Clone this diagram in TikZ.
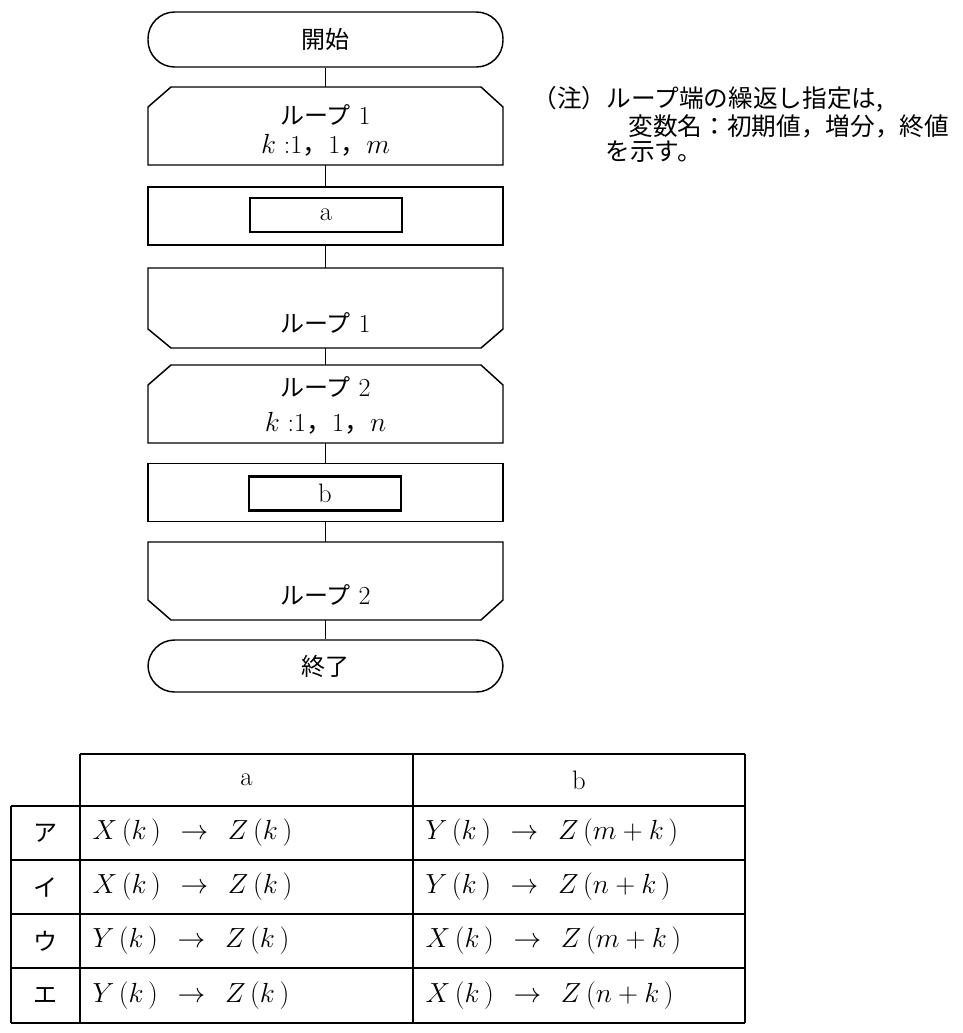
\documentclass[tikz,border=0pt]{standalone}
\usepackage{fontspec}
\newfontfamily\jp{Noto Sans CJK JP}

\tikzset{every picture/.style={line width=0.75pt}}
\tikzset{
  term/.style={draw, line width=1.1pt, rounded corners=20pt, minimum width=266.25pt, minimum height=41.25pt, inner sep=0pt, font=\fontsize{18}{22}\selectfont\jp},
  proc/.style={draw, line width=1.1pt, minimum width=266.25pt, minimum height=43.5pt, inner sep=0pt},
  inbox/.style={draw, line width=2.2pt, minimum width=114pt, minimum height=25.5pt, inner sep=0pt, font=\fontsize{20}{24}\selectfont},
  lbl/.style={inner sep=0.75pt, font=\fontsize{19.5}{22}\selectfont},
  note/.style={anchor=west, inner sep=0pt, font=\fontsize{18.5}{22}\selectfont\jp},
  head/.style={inner sep=0pt, font=\fontsize{20}{24}\selectfont},
  cell/.style={anchor=west, inner sep=0pt, font=\fontsize{20}{24}\selectfont},
  rule/.style={line width=1.1pt},
}
\newcommand\gap{\hspace{0.45em}}

\begin{document}
\begin{tikzpicture}[x=0.75pt,y=0.75pt,yscale=-1,xscale=1]
\useasboundingbox (0,0) rectangle (963,1033);

%Shape: Terminal [start]
\node[term] (start) at (325.5,39.5) {開始};

%Shape: Loop start [loop 1]
\draw[rule] (148,107) -- (171,87) -- (481,87) -- (503,107) -- (503,165) -- (148,165) -- cycle;
\coordinate (l1s-n) at (325.5,87);
\coordinate (l1s-s) at (325.5,165);
\node[lbl] (l1s-name) at (325.5,115) {{\fontsize{18}{22}\selectfont\jp ループ} 1};
\node[lbl] (l1s-rng) at (325.5,145) {$k$\ :1{\jp ，}1{\jp ，}$m$};

%Shape: Process [a]
\node[proc] (pa) at (325.5,216) {};
\node[inbox] (a) at (326,215) {a};

%Shape: Loop end [loop 1]
\draw[rule] (148,268) -- (503,268) -- (503,329) -- (481,348) -- (171,348) -- (148,329) -- cycle;
\coordinate (l1e-n) at (325.5,268);
\coordinate (l1e-s) at (325.5,348);
\node[lbl] (l1e-name) at (325.5,323) {{\fontsize{18}{22}\selectfont\jp ループ} 1};

%Shape: Loop start [loop 2]
\draw[rule] (148,385) -- (171,365) -- (481,365) -- (503,385) -- (503,443) -- (148,443) -- cycle;
\coordinate (l2s-n) at (325.5,365);
\coordinate (l2s-s) at (325.5,443);
\node[lbl] (l2s-name) at (325.5,387) {{\fontsize{18}{22}\selectfont\jp ループ} 2};
\node[lbl] (l2s-rng) at (325.5,423) {$k$\ :1{\jp ，}1{\jp ，}$n$};

%Shape: Process [b]
\node[proc] (pb) at (325.5,492.5) {};
\node[inbox] (b) at (325,493.5) {b};

%Shape: Loop end [loop 2]
\draw[rule] (148,542) -- (503,542) -- (503,600) -- (481,620) -- (171,620) -- (148,600) -- cycle;
\coordinate (l2e-n) at (325.5,542);
\coordinate (l2e-s) at (325.5,620);
\node[lbl] (l2e-name) at (325.5,595) {{\fontsize{18}{22}\selectfont\jp ループ} 2};

%Shape: Terminal [end]
\node[term, minimum height=39pt] (end) at (325.5,666) {終了};

%Straight Lines [flow]
\draw[rule] (start) -- (l1s-n);
\draw[rule] (l1s-s) -- (pa);
\draw[rule] (pa) -- (l1e-n);
\draw[rule] (l1e-s) -- (l2s-n);
\draw[rule] (l2s-s) -- (pb);
\draw[rule] (pb) -- (l2e-n);
\draw[rule] (l2e-s) -- (end);

% Text Node [note]
\node[note] (note1) at (532,99) {（注）ループ端の繰返し指定は,};
\node[note] (note2) at (628,126) {変数名：初期値，増分，終値};
\node[note] (note3) at (605,152) {を示す。};

%Straight Lines [table]
\draw[rule] (80,754) -- (745,754);
\draw[rule] (11,806) -- (745,806);
\draw[rule] (11,860) -- (745,860);
\draw[rule] (11,914) -- (745,914);
\draw[rule] (11,968) -- (745,968);
\draw[rule] (11,1023) -- (745,1023);
\draw[rule] (11,806) -- (11,1023);
\draw[rule] (80,754) -- (80,1023);
\draw[rule] (413,754) -- (413,1023);
\draw[rule] (745,754) -- (745,1023);

% Text Node [table]
\node[head] (h-a) at (246.5,780) {a};
\node[head] (h-b) at (579,780) {b};
\node[head] (r1) at (45.5,833) {\fontsize{18}{22}\selectfont\jp ア};
\node[head] (r2) at (45.5,887) {\fontsize{18}{22}\selectfont\jp イ};
\node[head] (r3) at (45.5,941) {\fontsize{18}{22}\selectfont\jp ウ};
\node[head] (r4) at (45.5,995.5) {\fontsize{18}{22}\selectfont\jp エ};
\node[cell] (r1-a) at (92,833) {$X\,(k\,)\gap\to\gap Z\,(k\,)$};
\node[cell] (r1-b) at (425,833) {$Y\,(k\,)\gap\to\gap Z\,(m+k\,)$};
\node[cell] (r2-a) at (92,887) {$X\,(k\,)\gap\to\gap Z\,(k\,)$};
\node[cell] (r2-b) at (425,887) {$Y\,(k\,)\gap\to\gap Z\,(n+k\,)$};
\node[cell] (r3-a) at (92,941) {$Y\,(k\,)\gap\to\gap Z\,(k\,)$};
\node[cell] (r3-b) at (425,941) {$X\,(k\,)\gap\to\gap Z\,(m+k\,)$};
\node[cell] (r4-a) at (92,995.5) {$Y\,(k\,)\gap\to\gap Z\,(k\,)$};
\node[cell] (r4-b) at (425,995.5) {$X\,(k\,)\gap\to\gap Z\,(n+k\,)$};

\end{tikzpicture}
\end{document}
